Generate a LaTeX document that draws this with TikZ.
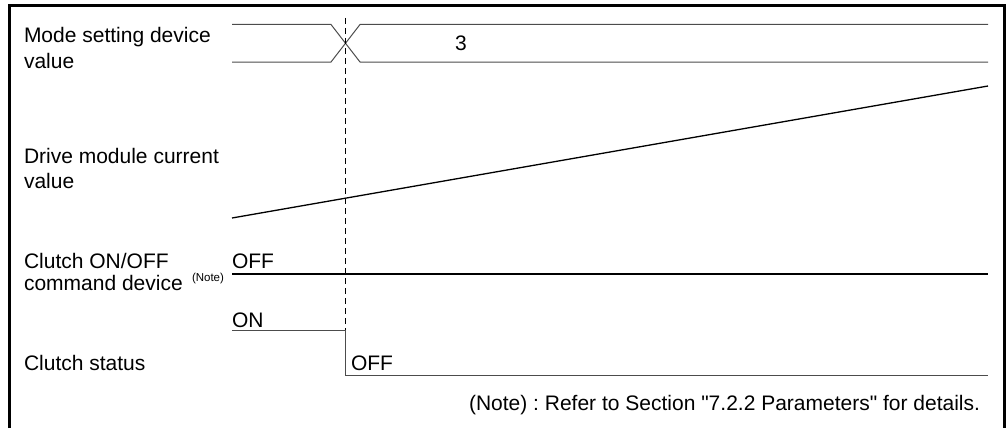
\documentclass[tikz,border=0pt]{standalone}
\usepackage{fontspec}
\setmainfont{Liberation Sans}[Ligatures=TeXOff]
\frenchspacing
\begin{document}
\begin{tikzpicture}[x=1pt,y=-1pt,
  lbl/.style={anchor=base west,inner sep=0pt,outer sep=0pt,font=\fontsize{21}{25}\selectfont},
  small/.style={anchor=base west,inner sep=0pt,outer sep=0pt,font=\fontsize{11.5}{14}\selectfont},
  frame/.style={line width=3pt,miter limit=10},
  wave/.style={line width=1pt,black!70},
  heavy/.style={line width=2pt,black},
  ramp/.style={line width=1.3pt,black},
  timing/.style={line width=1pt,black,dash pattern=on 6pt off 4pt}]
\useasboundingbox (0,0) rectangle (1008,428);
% frame (open at the bottom)
\coordinate (fbl) at (9.5,428);
\coordinate (ftl) at (9.5,5.5);
\coordinate (ftr) at (1004.5,5.5);
\coordinate (fbr) at (1004.5,428);
\draw[frame] (fbl) -- (ftl) -- (ftr) -- (fbr);
% labels
\node[lbl] (mode1) at (24,42) {Mode setting device};
\node[lbl] (mode2) at (24,68) {value};
\node[lbl] (drv1) at (24,163) {Drive module current};
\node[lbl] (drv2) at (24,188) {value};
\node[lbl] (cl1) at (24,268) {Clutch ON/OFF};
\node[lbl] (cl2) at (24,290) {command device};
\node[small] (note) at (192,281) {(Note)};
\node[lbl] (cs) at (24,370) {Clutch status};
\node[lbl] (three) at (455,51) {3};
\node[lbl] (offa) at (232,268) {OFF};
\node[lbl] (on) at (232,327) {ON};
\node[lbl] (offb) at (351,370) {OFF};
\node[lbl,anchor=base east] (foot) at (980,410) {(Note) : Refer to Section "7.2.2 Parameters" for details.};
% mode setting device value waveform
\coordinate (mt0) at (232,24.5);
\coordinate (mt1) at (331,24.5);
\coordinate (mt2) at (360,62);
\coordinate (mt3) at (988,62);
\coordinate (mb0) at (232,62);
\coordinate (mb1) at (331,62);
\coordinate (mb2) at (360,24.5);
\coordinate (mb3) at (988,24.5);
\draw[wave] (mt0) -- (mt1) -- (mt2) -- (mt3);
\draw[wave] (mb0) -- (mb1) -- (mb2) -- (mb3);
% drive module current value
\coordinate (d0) at (232,218);
\coordinate (d1) at (988,86);
\draw[ramp] (d0) -- (d1);
% clutch ON/OFF command device
\coordinate (c0) at (232,274);
\coordinate (c1) at (988,274);
\draw[heavy] (c0) -- (c1);
% clutch status
\coordinate (s0) at (232,330);
\coordinate (s1) at (345.5,330);
\coordinate (s2) at (345.5,375);
\coordinate (s3) at (988,375);
\draw[wave,line join=miter] (s0) -- (s1) -- (s2) -- (s3);
% timing line
\coordinate (t0) at (345.5,18);
\draw[timing] (t0) -- (s1);
\end{tikzpicture}
\end{document}
